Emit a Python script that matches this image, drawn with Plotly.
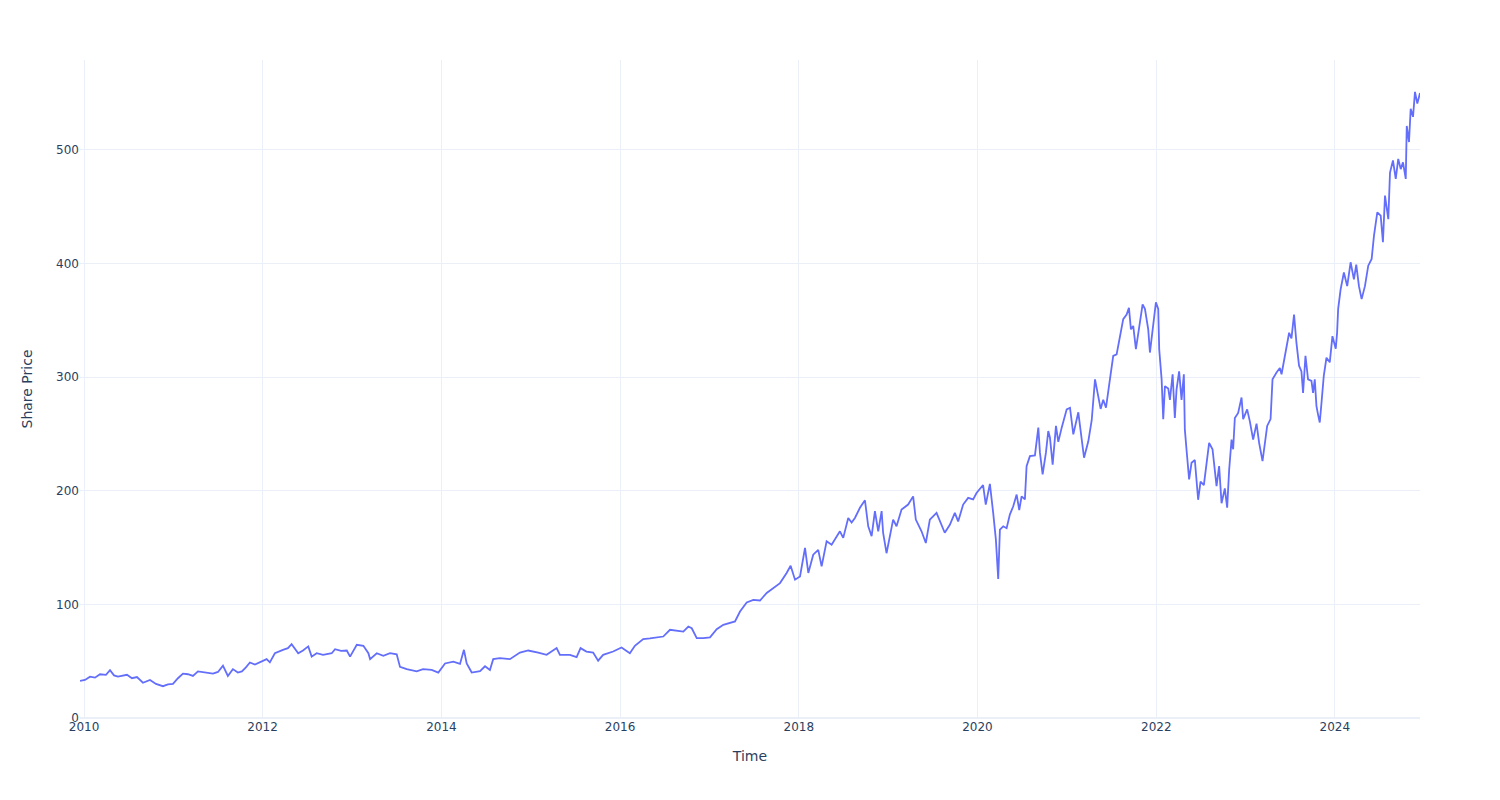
import pandas as pd
import plotly.graph_objects as go

# Time positions as decimal years
years = [
    2009.955, 2010.011, 2010.067, 2010.123, 2010.179, 2010.246, 2010.291, 2010.336, 2010.380, 2010.436,
    2010.481, 2010.537, 2010.593, 2010.660, 2010.739, 2010.806, 2010.884, 2010.940, 2010.996, 2011.052,
    2011.108, 2011.164, 2011.220, 2011.276, 2011.354, 2011.444, 2011.500, 2011.556, 2011.611, 2011.667,
    2011.723, 2011.768, 2011.813, 2011.858, 2011.914, 2011.970,
    2012.045, 2012.081, 2012.137, 2012.227, 2012.283, 2012.324, 2012.361, 2012.398, 2012.451, 2012.510,
    2012.548, 2012.604, 2012.675, 2012.772, 2012.809, 2012.876, 2012.940, 2012.977, 2013.052, 2013.126,
    2013.182, 2013.201, 2013.276, 2013.349, 2013.424, 2013.499, 2013.536, 2013.611, 2013.723, 2013.794,
    2013.891, 2013.965,
    2014.040, 2014.133, 2014.208, 2014.252, 2014.283, 2014.339, 2014.432, 2014.488, 2014.543, 2014.580,
    2014.655, 2014.767, 2014.879, 2014.972, 2015.084, 2015.178, 2015.290, 2015.327, 2015.439, 2015.514,
    2015.558, 2015.624, 2015.699, 2015.755, 2015.811, 2015.923, 2016.017, 2016.110, 2016.166, 2016.203,
    2016.259, 2016.334, 2016.409, 2016.483, 2016.558, 2016.633, 2016.707, 2016.763, 2016.801, 2016.857,
    2016.931, 2017.005, 2017.080, 2017.154, 2017.285, 2017.341, 2017.416, 2017.490, 2017.565, 2017.640,
    2017.733, 2017.789, 2017.863, 2017.908,
    2017.957, 2018.013, 2018.069, 2018.106, 2018.161, 2018.217, 2018.255, 2018.311, 2018.367, 2018.460,
    2018.497, 2018.553, 2018.591, 2018.628, 2018.684, 2018.740, 2018.777, 2018.815, 2018.852, 2018.889,
    2018.927, 2018.944, 2018.982, 2019.019, 2019.056, 2019.094, 2019.150, 2019.224, 2019.280, 2019.310,
    2019.374, 2019.422, 2019.467, 2019.542, 2019.597, 2019.634, 2019.691, 2019.747, 2019.784, 2019.840,
    2019.896, 2019.952, 2019.990, 2020.063, 2020.093, 2020.139,
    2020.176, 2020.206, 2020.232, 2020.251, 2020.288, 2020.326, 2020.362, 2020.400, 2020.438, 2020.467,
    2020.493, 2020.530, 2020.549, 2020.586, 2020.642, 2020.680, 2020.698, 2020.728, 2020.765, 2020.791,
    2020.810, 2020.840, 2020.877, 2020.903, 2020.941, 2020.997, 2021.034, 2021.071, 2021.127, 2021.165,
    2021.191, 2021.239, 2021.277,
    2021.314, 2021.351, 2021.377, 2021.406, 2021.437, 2021.481, 2021.518, 2021.556, 2021.593, 2021.630,
    2021.668, 2021.694, 2021.716, 2021.742, 2021.772, 2021.809, 2021.847, 2021.873, 2021.910, 2021.929,
    2021.966, 2021.996, 2022.022, 2022.033, 2022.060, 2022.078, 2022.097, 2022.134, 2022.153, 2022.183,
    2022.208, 2022.227, 2022.256, 2022.283, 2022.309, 2022.320, 2022.339, 2022.368,
    2022.395, 2022.432, 2022.469, 2022.496, 2022.533, 2022.563, 2022.592, 2022.630, 2022.656, 2022.675,
    2022.704, 2022.731, 2022.768, 2022.794, 2022.816, 2022.843, 2022.861, 2022.880, 2022.917, 2022.955,
    2022.973, 2023.018, 2023.048, 2023.085, 2023.123, 2023.152, 2023.190, 2023.216, 2023.242, 2023.280,
    2023.302, 2023.347, 2023.384, 2023.403, 2023.432, 2023.458, 2023.488, 2023.514, 2023.543, 2023.570,
    2023.599, 2023.626, 2023.644, 2023.671, 2023.700, 2023.738, 2023.756, 2023.775, 2023.794, 2023.812,
    2023.831, 2023.850, 2023.876, 2023.906, 2023.943, 2023.973, 2024.010, 2024.025, 2024.037,
    2024.064, 2024.101, 2024.138, 2024.176, 2024.213, 2024.239, 2024.269, 2024.299, 2024.336, 2024.373,
    2024.411, 2024.437, 2024.474, 2024.512, 2024.537, 2024.560, 2024.597, 2024.616, 2024.649, 2024.680,
    2024.708, 2024.736, 2024.761, 2024.792, 2024.803, 2024.828, 2024.847, 2024.873, 2024.895, 2024.921,
    2024.951,
]

# Share prices at those positions
prices = [
    32.6, 33.5, 36.4, 35.5, 38.5, 38.0, 42.0, 37.5, 36.4, 37.5,
    38.0, 35.0, 36.0, 31.0, 33.5, 30.0, 28.0, 29.5, 30.0, 35.0,
    39.0, 38.5, 37.0, 41.0, 40.0, 39.0, 40.5, 46.0, 37.0, 43.0,
    40.0, 41.0, 44.5, 48.8, 47.0, 48.8,
    51.8, 49.0, 57.0, 60.0, 61.5, 65.0, 61.5, 57.0, 59.4, 63.0,
    54.0, 57.0, 55.6, 57.0, 60.5, 59.0, 59.4, 54.0, 64.4, 63.5,
    57.0, 51.8, 57.0, 54.8, 57.0, 56.0, 45.0, 43.0, 41.0, 43.0,
    42.3, 40.0,
    48.0, 49.6, 47.6, 60.0, 48.0, 40.0, 41.2, 45.5, 42.3, 51.8,
    52.7, 51.8, 57.6, 59.4, 57.6, 55.6, 61.5, 55.6, 55.6, 53.5,
    61.5, 58.5, 57.6, 50.5, 55.6, 58.5, 62.0, 57.0, 63.5, 65.9,
    69.4, 70.0, 71.0, 71.7, 77.6, 77.0, 76.0, 80.5, 79.0, 70.3,
    70.3, 71.0, 78.2, 82.0, 85.0, 93.7, 101.7, 104.0, 103.4, 110.0,
    115.8, 118.7, 127.6, 134.0,
    121.7, 124.6, 149.6, 127.6, 143.7, 148.0, 133.4, 155.5, 152.5, 164.3,
    158.5, 176.0, 172.0, 176.0, 185.0, 191.6, 168.7, 160.0, 182.0, 164.3,
    182.0, 162.8, 145.0, 160.0, 174.6, 168.7, 183.4, 187.8, 195.0, 174.6,
    164.3, 154.0, 174.6, 180.5, 170.0, 163.0, 170.0, 180.5, 173.0, 187.8,
    193.7, 192.3, 198.0, 205.0, 187.8, 206.0,
    180.5, 157.0, 122.3, 165.8, 168.7, 167.0, 179.0, 186.3, 196.6, 183.0,
    195.0, 192.3, 221.6, 230.4, 231.0, 255.5, 233.5, 214.3, 233.5, 252.5,
    246.6, 223.0, 257.0, 243.0, 255.5, 271.6, 273.0, 249.6, 269.0, 248.0,
    229.0, 243.5, 262.0,
    298.0, 283.0, 272.0, 280.0, 273.0, 298.0, 318.6, 320.0, 334.8, 351.0,
    355.0, 361.0, 342.0, 345.0, 324.5, 345.0, 364.0, 360.0, 342.0, 321.6,
    345.0, 365.7, 360.0, 324.5, 298.0, 263.0, 292.0, 290.0, 280.0, 302.5,
    264.0, 289.0, 305.0, 280.0, 302.5, 254.0, 236.0, 210.0,
    224.6, 227.0, 192.0, 208.0, 205.0, 226.0, 242.0, 236.5, 215.8, 204.0,
    221.6, 189.0, 202.0, 185.0, 218.0, 245.0, 236.5, 264.0, 268.5, 282.0,
    263.0, 271.6, 261.0, 245.0, 259.0, 242.0, 226.0, 242.0, 257.0, 263.0,
    298.0, 304.0, 308.0, 302.5, 315.7, 326.0, 339.0, 334.0, 355.0, 330.0,
    310.0, 305.0, 286.0, 318.6, 298.0, 296.7, 286.0, 298.0, 274.5, 267.0,
    260.0, 277.0, 301.0, 317.0, 313.0, 336.0, 325.0, 339.0, 360.0,
    377.0, 392.0, 380.0, 401.0, 386.0, 399.0, 380.0, 368.6, 380.0, 398.0,
    404.0, 424.4, 445.0, 442.0, 418.6, 459.7, 439.0, 480.0, 490.6, 474.4,
    492.0, 483.0, 489.0, 474.4, 521.0, 506.8, 536.0, 529.0, 551.0, 540.6,
    550.0,
]


def to_date(y):
    year = int(y)
    start = pd.Timestamp(year=year, month=1, day=1)
    end = pd.Timestamp(year=year + 1, month=1, day=1)
    return start + (end - start) * (y - year)


dates = [to_date(y) for y in years]

fig = go.Figure()
fig.add_trace(go.Scatter(
    x=dates, y=prices, mode="lines",
    line=dict(color="#636efa", width=1.8),
    showlegend=False,
))

fig.update_layout(
    template="plotly_white",
    font=dict(family="DejaVu Sans"),
    width=1500, height=800,
    margin=dict(l=80, r=80, t=60, b=82),
    xaxis=dict(title=dict(text="Time", standoff=18), automargin=False),
    yaxis=dict(title=dict(text="Share Price", standoff=20), range=[0, 579],
               automargin=False),
)

fig.write_html("out.html")
